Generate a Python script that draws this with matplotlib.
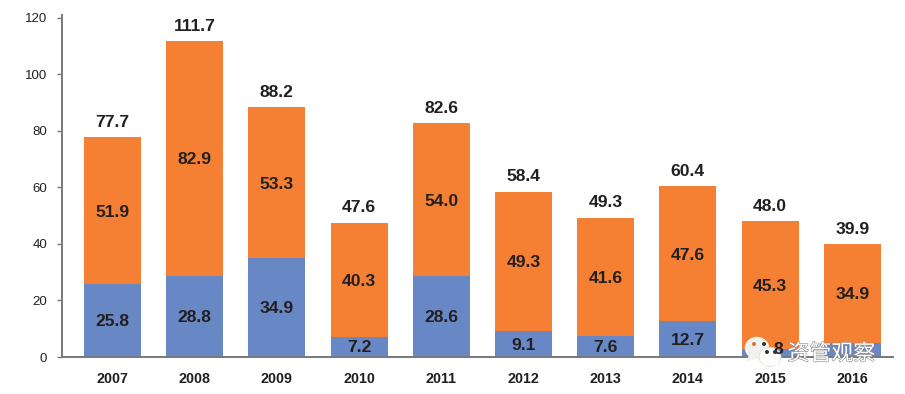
import matplotlib
matplotlib.use('Agg')
import matplotlib.pyplot as plt
import matplotlib.patheffects as pe
from matplotlib.patches import Ellipse, Polygon

years = ['2007','2008','2009','2010','2011','2012','2013','2014','2015','2016']
blue = [25.8,28.8,34.9,7.2,28.6,9.1,7.6,12.7,2.8,5.0]
orange = [51.9,82.9,53.3,40.3,54.0,49.3,41.6,47.6,45.3,34.9]
totals = [77.7,111.7,88.2,47.6,82.6,58.4,49.3,60.4,48.0,39.9]
blue_labels = ['25.8','28.8','34.9','7.2','28.6','9.1','7.6','12.7','','']
yticks = [0,20,40,60,80,100,120]

W, H = 905, 394
TXT = '#231f20'
plt.rcParams['font.family'] = ['Liberation Sans', 'DejaVu Sans']
fig = plt.figure(figsize=(W/100, H/100), dpi=100)
L, R, T, B = 62, 893, 14.7, 357
ax = fig.add_axes([L/W, 1-B/H, (R-L)/W, (B-T)/H])
x = list(range(len(years)))
ax.bar(x, blue, width=0.693, color='#6788c5', zorder=2)
ax.bar(x, orange, width=0.693, bottom=blue, color='#f58033', zorder=2)
ax.set_xlim(-0.614, 9.495)
ax.set_ylim(0, 121)
for i in x:
    ax.text(i, blue[i]+orange[i]+2.6, f'{totals[i]:.1f}', ha='center', va='bottom',
            fontsize=12.6, fontweight='bold', color=TXT, zorder=3)
    ax.text(i, blue[i]+orange[i]/2-0.5, f'{orange[i]:.1f}', ha='center', va='center',
            fontsize=12.6, fontweight='bold', color=TXT, zorder=3)
    if blue_labels[i]:
        ax.text(i, blue[i]/2-0.4, blue_labels[i], ha='center', va='center',
                fontsize=12.6, fontweight='bold', color=TXT, zorder=3)
ax.set_xticks(x, years)
ax.set_yticks(yticks)
for s in ['top', 'right']:
    ax.spines[s].set_visible(False)
for s in ['left', 'bottom']:
    ax.spines[s].set_color('#77787b')
    ax.spines[s].set_linewidth(1.4)
    ax.spines[s].set_zorder(4)
ax.tick_params(axis='x', length=0, pad=11, labelsize=10.3, labelcolor=TXT)
for l in ax.get_xticklabels():
    l.set_fontweight('bold')
ax.tick_params(axis='y', length=3.6, width=1, color='#77787b', pad=7.2, labelsize=9.5, labelcolor=TXT)

# Watermark over the chart
ov = fig.add_axes([0, 0, 1, 1], zorder=10)
ov.set_xlim(0, W); ov.set_ylim(H, 0); ov.axis('off'); ov.patch.set_alpha(0)
ov.add_patch(Ellipse((757, 348), 23, 21, color='#f3f1ee', zorder=1))
ov.add_patch(Polygon([[750,355],[747,361],[756,358]], color='#f3f1ee', zorder=1))
ov.add_patch(Ellipse((770, 357), 22, 19, fc='white', ec='#d8d8d8', lw=0.5, zorder=2))
ov.add_patch(Polygon([[774,364],[779,367],[777,362]], color='white', zorder=2))
for px, py, c, r in [(754,344,'#d9772e',2.6),(764,344,'#333333',2.6),(767,352,'#333333',2.6),(775,352,'#333333',2.6)]:
    ov.add_patch(Ellipse((px, py), r, r, color=c, zorder=4))
ov.text(773, 350, '8', fontsize=12.6, fontweight='bold', color=TXT, ha='left', va='center', zorder=3)
ov.text(787.5, 354, '资管观察', family=['Noto Sans CJK SC','DejaVu Sans'], fontsize=15.8, color='white',
        ha='left', va='center', zorder=5,
        path_effects=[pe.withStroke(linewidth=0.8, foreground='#8a8a8a')])
fig.savefig('out.png', dpi=100)
